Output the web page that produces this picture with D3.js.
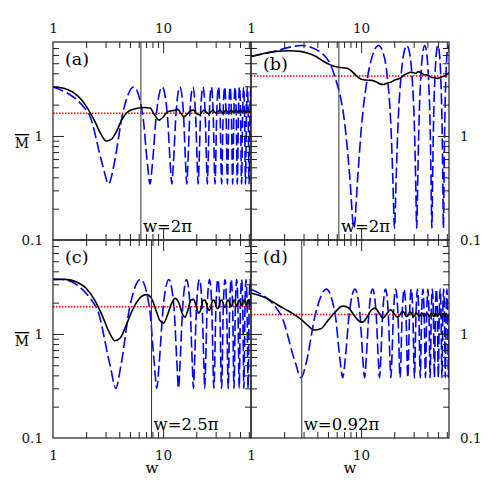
<!DOCTYPE html>
<html>
<head>
<meta charset="utf-8">
<script src="https://cdn.jsdelivr.net/npm/d3@7"></script>
<style>
  body { margin: 0; background: #fff; }
  text { font-family: 'DejaVu Serif', serif; }
</style>
</head>
<body>
<div id="chart"></div>
<script>
// Axis ranges (log in both directions)
var wDomain = [1, 20 * Math.PI];
var mDomain = [0.1, 8];

// Tick values and labels
var xMinorTicks = [2, 3, 4, 5, 6, 7, 8, 9, 20, 30, 40, 50, 60];
var xMajorTicks = [10];
var yMinorTicks = [0.2, 0.3, 0.4, 0.5, 0.6, 0.7, 0.8, 0.9, 2, 3, 4, 5, 6, 7];
var yMajorTicks = [1];
var xTickLabels = [1, 10];
var yTickLabels = [0.1, 1];

// Per panel annotations
var panelNames = ['(a)', '(b)', '(c)', '(d)'];
var markerW = [2 * Math.PI, 2 * Math.PI, 2.5 * Math.PI, 0.92 * Math.PI];
var markerText = ['w=2π', 'w=2π', 'w=2.5π', 'w=0.92π'];
var meanM = [1.65, 3.78, 1.83, 1.54];

// Dashed blue curves [w, M]
var blueA = [[1.0,2.96],[2.1,1.65],[2.83,0.52],[3.2,0.345],[3.57,0.52],[4.3,1.65],
  [5.4,2.96],[6.5,1.65],[7.23,0.52],[7.6,0.345],[7.97,0.52],[8.7,1.65],
  [9.8,2.96],[10.9,1.65],[11.63,0.52],[12.0,0.345],[12.37,0.52],[13.1,1.65],
  [14.2,2.96],[15.3,1.65],[16.03,0.52],[16.4,0.345],[16.77,0.52],[17.5,1.65],
  [18.6,2.96],[19.7,1.65],[20.43,0.52],[20.8,0.345],[21.17,0.52],[21.9,1.65],
  [23.0,2.96],[24.1,1.65],[24.83,0.52],[25.2,0.345],[25.57,0.52],[26.3,1.65],
  [27.4,2.96],[28.5,1.65],[29.6,0.345],[30.7,1.65],
  [31.8,2.96],[32.9,1.65],[34.0,0.345],[35.1,1.65],
  [36.2,2.96],[37.3,1.65],[38.4,0.345],[39.5,1.65],
  [40.6,2.96],[41.7,1.65],[42.8,0.345],[43.9,1.65],
  [45.0,2.96],[46.1,1.65],[47.2,0.345],[48.3,1.65],
  [49.4,2.96],[50.5,1.65],[51.6,0.345],[52.7,1.65],
  [53.8,2.96],[54.9,1.65],[56.0,0.345],[57.1,1.65],
  [58.2,2.96],[59.3,1.65],[60.4,0.345],[61.5,1.65],
  [62.6,2.96],[63.7,1.65]];

var blueB = [[1.0,5.8],[1.475,6.335],[2.9,7.4],[4.325,6.335],[5.75,3.765],[7.175,1.195],[7.89,0.407],[8.6,0.13],
  [9.325,0.407],[10.05,1.195],[11.5,3.765],[12.95,6.335],[14.4,7.4],
  [15.825,6.335],[17.25,3.765],[18.675,1.195],[19.39,0.407],[20.1,0.13],
  [20.84,0.407],[21.575,1.195],[23.05,3.765],[24.525,6.335],[26.0,7.4],
  [27.5,6.335],[29.0,3.765],[30.5,1.195],[31.25,0.407],[32.0,0.13],
  [32.725,0.407],[33.45,1.195],[34.9,3.765],[36.35,6.335],[37.8,7.4],
  [39.325,6.335],[40.85,3.765],[42.375,1.195],[43.14,0.407],[43.9,0.13],
  [44.64,0.407],[45.375,1.195],[46.85,3.765],[48.325,6.335],[49.8,7.4],
  [51.325,6.335],[52.85,3.765],[54.375,1.195],[55.14,0.407],[55.9,0.13],
  [56.65,0.407],[57.4,1.195],[58.9,3.765],[60.4,6.335],[61.9,7.4],[63.4,6.335]];

var blueC = [[1.0,3.32],[1.2,3.34],[2.46,1.82],[3.3,0.5],[3.72,0.3],[4.14,0.5],[4.98,1.82],
  [6.24,3.34],[7.5,1.82],[8.34,0.5],[8.76,0.3],[9.18,0.5],[10.02,1.82],
  [11.28,3.34],[12.54,1.82],[13.38,0.5],[13.8,0.3],[14.22,0.5],[15.06,1.82],
  [16.32,3.34],[17.58,1.82],[18.42,0.5],[18.84,0.3],[19.26,0.5],[20.1,1.82],
  [21.36,3.34],[22.62,1.82],[23.46,0.5],[23.88,0.3],[24.3,0.5],[25.14,1.82],
  [26.4,3.34],[27.66,1.82],[28.92,0.3],[30.18,1.82],
  [31.44,3.34],[32.7,1.82],[33.96,0.3],[35.22,1.82],
  [36.48,3.34],[37.74,1.82],[39.0,0.3],[40.26,1.82],
  [41.52,3.34],[42.78,1.82],[44.04,0.3],[45.3,1.82],
  [46.56,3.34],[47.82,1.82],[49.08,0.3],[50.34,1.82],
  [51.6,3.34],[52.86,1.82],[54.12,0.3],[55.38,1.82],
  [56.64,3.34],[57.9,1.82],[59.16,0.3],[60.42,1.82],
  [61.68,3.34],[62.94,1.82]];

var blueD = [[1.0,2.68],[1.86,1.54],[2.52,0.535],[2.85,0.38],[3.18,0.535],[3.84,1.54],
  [4.83,2.7],[5.81,1.54],[6.47,0.535],[6.8,0.38],[7.13,0.535],[7.79,1.54],
  [8.78,2.7],[9.76,1.54],[10.42,0.535],[10.75,0.38],[11.08,0.535],[11.74,1.54],
  [12.73,2.7],[13.71,1.54],[14.37,0.535],[14.7,0.38],[15.03,0.535],[15.69,1.54],
  [16.68,2.7],[17.66,1.54],[18.32,0.535],[18.65,0.38],[18.98,0.535],[19.64,1.54],
  [20.63,2.7],[21.61,1.54],[22.6,0.38],[23.59,1.54],
  [24.58,2.7],[25.56,1.54],[26.55,0.38],[27.54,1.54],
  [28.53,2.7],[29.51,1.54],[30.5,0.38],[31.49,1.54],
  [32.48,2.7],[33.46,1.54],[34.45,0.38],[35.44,1.54],
  [36.43,2.7],[37.41,1.54],[38.4,0.38],[39.39,1.54],
  [40.38,2.7],[41.36,1.54],[42.35,0.38],[43.34,1.54],
  [44.33,2.7],[45.31,1.54],[46.3,0.38],[47.29,1.54],
  [48.28,2.7],[49.26,1.54],[50.25,0.38],[51.24,1.54],
  [52.23,2.7],[53.21,1.54],[54.2,0.38],[55.19,1.54],
  [56.18,2.7],[57.16,1.54],[58.15,0.38],[59.14,1.54],
  [60.13,2.7],[61.11,1.54],[62.1,0.38],[63.09,1.54]];

// Solid black (smoothed) curves [w, M]
var blackA = [[1.0,2.96],[1.25,2.88],[1.5,2.65],[1.8,2.25],[2.1,1.78],[2.4,1.38],[2.7,1.06],[3.05,0.89],
  [3.4,0.93],[3.8,1.12],[4.2,1.42],[4.7,1.68],[5.3,1.8],[6.0,1.86],[6.8,1.88],[7.6,1.86],[8.3,1.62],
  [9.2,1.42],[10.0,1.52],[10.8,1.68],[11.6,1.74],[12.6,1.76],[13.6,1.8],[14.5,1.65],[15.4,1.53],
  [16.5,1.62],[17.7,1.74],[18.9,1.77],[20.2,1.64],[21.3,1.6],[22.5,1.7],[23.7,1.77],[24.9,1.68],
  [26.0,1.63],[27.1,1.7],[28.3,1.77],[29.4,1.7],[30.5,1.65],[31.6,1.72],[32.8,1.77],[35.0,1.66],
  [37.2,1.77],[39.4,1.66],[41.6,1.77],[43.8,1.67],[46.0,1.77],[48.2,1.67],[50.4,1.77],[52.6,1.67],
  [54.8,1.77],[57.0,1.67],[59.2,1.77],[61.4,1.67],[62.83,1.72]];

var blackB = [[1.0,5.8],[1.3,6.2],[1.7,6.5],[2.2,6.6],[2.8,6.5],[3.3,6.25],[3.9,5.8],[4.5,5.25],
  [5.2,4.85],[5.8,4.65],[6.5,4.55],[7.3,4.5],[8.0,4.3],[8.8,3.9],[9.8,3.55],[11.0,3.45],[12.5,3.42],
  [13.8,3.3],[15.0,3.15],[16.0,3.12],[17.2,3.22],[18.5,3.28],[20.2,3.45],[22.0,3.55],[23.5,3.7],
  [24.8,3.88],[26.5,4.0],[28.0,4.1],[30.0,4.05],[31.5,4.0],[33.0,4.15],[35.0,4.05],[37.6,3.86],
  [40.0,3.85],[43.2,3.66],[46.0,3.62],[49.6,3.58],[52.5,3.65],[55.3,3.72],[58.0,3.8],[61.6,4.0],
  [62.83,4.05]];

var blackC = [[1.0,3.38],[1.3,3.35],[1.6,3.2],[2.0,2.75],[2.4,2.1],[2.8,1.5],[3.2,1.07],[3.65,0.86],
  [4.1,0.92],[4.6,1.2],[5.2,1.65],[5.9,2.1],[6.5,2.33],[7.1,2.39],[7.8,2.22],[8.6,1.7],[9.3,1.36],
  [10.1,1.27],[10.9,1.5],[11.9,1.95],[12.9,2.2],[14.0,1.95],[15.0,1.55],[15.8,1.45],[16.8,1.7],
  [17.9,2.12],[18.9,2.15],[20.0,1.85],[20.9,1.58],[22.0,1.72],[23.0,2.1],[24.0,2.12],[25.1,1.85],
  [26.0,1.68],[27.1,1.8],[28.1,2.1],[29.1,2.12],[30.2,1.88],[31.2,1.75],[32.2,1.85],[33.2,2.1],
  [34.2,2.12],[35.3,1.92],[36.3,1.8],[37.3,1.88],[38.3,2.1],[39.3,2.12],[40.4,1.95],[41.4,1.84],
  [42.4,1.9],[43.4,2.1],[44.4,2.12],[45.5,1.96],[46.5,1.86],[47.5,1.92],[48.5,2.1],[49.5,2.12],
  [50.6,1.97],[51.6,1.87],[52.6,1.93],[53.6,2.1],[54.6,2.12],[55.7,1.97],[56.7,1.88],[57.7,1.94],
  [58.7,2.1],[59.7,2.12],[60.8,1.98],[61.8,1.88],[62.83,1.95]];

var blackD = [[1.0,2.46],[1.25,2.3],[1.5,2.1],[1.75,1.9],[2.0,1.75],[2.4,1.57],[2.85,1.38],[3.3,1.2],
  [3.75,1.09],[4.3,1.12],[5.0,1.35],[5.8,1.62],[6.8,1.85],[7.6,1.8],[8.6,1.52],[9.5,1.34],[10.3,1.3],
  [11.3,1.45],[12.4,1.7],[13.4,1.77],[14.6,1.58],[15.8,1.42],[17.0,1.55],[18.5,1.71],[19.8,1.58],
  [21.3,1.45],[22.5,1.52],[23.6,1.64],[24.7,1.6],[25.7,1.47],[26.7,1.5],[27.7,1.62],[28.7,1.58],
  [29.7,1.47],[30.7,1.5],[31.7,1.61],[33.7,1.47],[35.7,1.6],[37.6,1.47],[39.6,1.59],[41.6,1.47],
  [43.6,1.59],[45.6,1.47],[47.5,1.58],[49.5,1.47],[51.5,1.58],[53.5,1.47],[55.5,1.58],[57.4,1.47],
  [59.4,1.58],[61.4,1.47],[62.83,1.54]];

var blueCurves = [blueA, blueB, blueC, blueD];
var blackCurves = [blackA, blackB, blackC, blackD];

// Layout
var margin = {top: 42, left: 53};
var size = 198;
var frameColor = '#222';

var svg = d3.select('#chart')
  .append('svg')
  .attr('width', 491)
  .attr('height', 491);

// Scales shared by all four panels
var x = d3.scaleLog().domain(wDomain).range([0, size]);
var y = d3.scaleLog().domain(mDomain).range([size, 0]);

var line = d3.line()
  .x(function(d) { return x(d[0]); })
  .y(function(d) { return y(d[1]); })
  .curve(d3.curveMonotoneX);

var defs = svg.append('defs');

// Inward ticks on one side
function ticks(g, axisFn, scale, values, len, transform) {
  g.append('g')
    .attr('transform', transform)
    .call(axisFn(scale).tickValues(values).tickSize(-len).tickSizeOuter(0).tickFormat(''))
    .call(function(a) { a.select('.domain').remove(); })
    .attr('color', frameColor);
}

// Tick labels on one side
function labels(g, axisFn, scale, values, pad, transform) {
  var a = g.append('g')
    .attr('transform', transform)
    .call(axisFn(scale).tickValues(values).tickSize(0).tickPadding(pad).tickFormat(function(d) { return String(d); }));
  a.select('.domain').remove();
  a.attr('font-family', null).attr('font-size', 13.5).attr('color', '#111');
}

panelNames.forEach(function(name, i) {
  var col = i % 2;
  var row = Math.floor(i / 2);
  var g = svg.append('g')
    .attr('transform', 'translate(' + (margin.left + col * size) + ',' + (margin.top + row * size) + ')');

  defs.append('clipPath').attr('id', 'clip' + i)
    .append('rect').attr('width', size).attr('height', size);

  var plot = g.append('g').attr('clip-path', 'url(#clip' + i + ')');

  // Dashed blue curve
  plot.append('path')
    .datum(blueCurves[i])
    .attr('d', line)
    .attr('fill', 'none')
    .attr('stroke', '#0000ff')
    .attr('stroke-width', 1.6)
    .attr('stroke-dasharray', '11,4');

  // Red dotted mean
  plot.append('line')
    .attr('x1', 0).attr('x2', size)
    .attr('y1', y(meanM[i])).attr('y2', y(meanM[i]))
    .attr('stroke', '#ff0000')
    .attr('stroke-width', 1.5)
    .attr('stroke-dasharray', '1.5,1.5');

  // Solid black curve
  plot.append('path')
    .datum(blackCurves[i])
    .attr('d', line)
    .attr('fill', 'none')
    .attr('stroke', '#000')
    .attr('stroke-width', 1.6);

  // Vertical marker
  g.append('line')
    .attr('x1', x(markerW[i])).attr('x2', x(markerW[i]))
    .attr('y1', 0).attr('y2', size)
    .attr('stroke', '#333')
    .attr('stroke-width', 1);

  g.append('text')
    .attr('x', x(markerW[i]) + 2)
    .attr('y', size - 8)
    .attr('font-size', 16.5)
    .text(markerText[i]);

  g.append('text')
    .attr('x', 12)
    .attr('y', i === 1 ? 27.5 : 22.5)
    .attr('font-size', 17.5)
    .text(name);

  // Ticks on all four sides
  ticks(g, d3.axisTop, x, xMinorTicks, 6, 'translate(0,0)');
  ticks(g, d3.axisTop, x, xMajorTicks, 11, 'translate(0,0)');
  ticks(g, d3.axisBottom, x, xMinorTicks, 6, 'translate(0,' + size + ')');
  ticks(g, d3.axisBottom, x, xMajorTicks, 11, 'translate(0,' + size + ')');
  ticks(g, d3.axisLeft, y, yMinorTicks, 6, 'translate(0,0)');
  ticks(g, d3.axisLeft, y, yMajorTicks, 11, 'translate(0,0)');
  ticks(g, d3.axisRight, y, yMinorTicks, 6, 'translate(' + size + ',0)');
  ticks(g, d3.axisRight, y, yMajorTicks, 11, 'translate(' + size + ',0)');

  // Frame
  g.append('rect')
    .attr('width', size)
    .attr('height', size)
    .attr('fill', 'none')
    .attr('stroke', frameColor)
    .attr('stroke-width', 1.2);

  // Tick labels and titles on the outer sides
  if (row === 0) labels(g, d3.axisTop, x, xTickLabels, 9, 'translate(0,0)');
  if (row === 1) {
    labels(g, d3.axisBottom, x, xTickLabels, 12.4, 'translate(0,' + size + ')');
    g.append('text')
      .attr('x', size / 2)
      .attr('y', size + 35)
      .attr('text-anchor', 'middle')
      .attr('font-size', 15)
      .text('w');
  }
  if (col === 0) {
    labels(g, d3.axisLeft, y, yTickLabels, 10, 'translate(0,0)');
    g.append('text')
      .attr('x', -31)
      .attr('y', y(1) + 12)
      .attr('text-anchor', 'middle')
      .attr('font-size', 14)
      .style('text-decoration', 'overline')
      .text('M');
  }
  if (col === 1) labels(g, d3.axisRight, y, yTickLabels, 11, 'translate(' + size + ',0)');
});
</script>
</body>
</html>
